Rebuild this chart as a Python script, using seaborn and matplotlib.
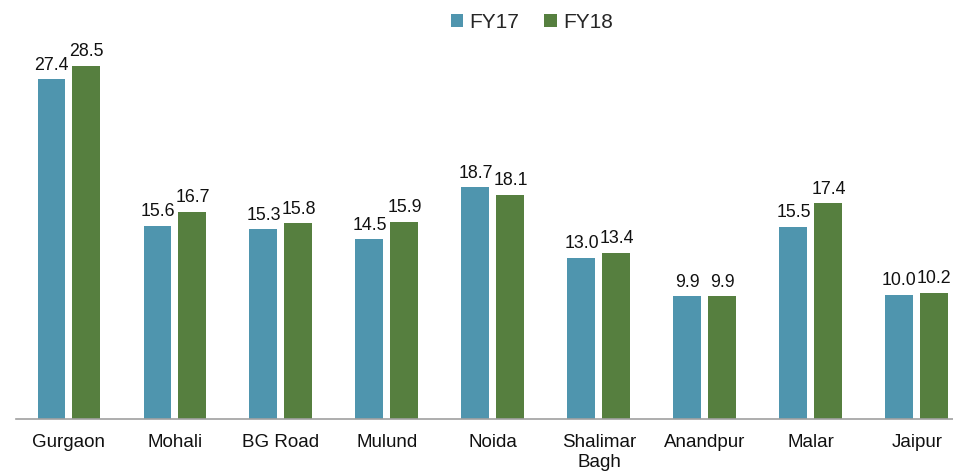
import matplotlib
matplotlib.use("Agg")
import matplotlib.pyplot as plt
import seaborn as sns
import pandas as pd

categories = ["Gurgaon", "Mohali", "BG Road", "Mulund", "Noida", "Shalimar\nBagh", "Anandpur", "Malar", "Jaipur"]
fy17 = [27.4, 15.6, 15.3, 14.5, 18.7, 13.0, 9.9, 15.5, 10.0]
fy18 = [28.5, 16.7, 15.8, 15.9, 18.1, 13.4, 9.9, 17.4, 10.2]
series = ["FY17", "FY18"]
colors = ["#4F95AE", "#567F3F"]

df = pd.DataFrame({
    "Location": categories * 2,
    "Value": fy17 + fy18,
    "Year": [series[0]] * len(categories) + [series[1]] * len(categories),
})

sns.set_style("white")
plt.rcParams["font.family"] = ["Liberation Sans", "DejaVu Sans"]

fig = plt.figure(figsize=(9.54, 4.72), dpi=100)
ax = fig.add_axes([16 / 954, 53 / 472, 938 / 954, 419 / 472])

sns.barplot(data=df, x="Location", y="Value", hue="Year", palette=colors,
            width=0.66, gap=0.2, ax=ax, saturation=1, linewidth=0)

for c in ax.containers:
    ax.bar_label(c, fmt="%.1f", padding=4, fontsize=12.8, color="#111111")

ax.set_ylim(0, 33.8)
ax.set_xlim(-0.50, 8.35)
ax.set_xlabel("")
ax.set_ylabel("")
ax.set_yticks([])
ax.tick_params(axis="x", length=0, labelsize=13.5, pad=11, colors="#111111")
for s in ["top", "right", "left"]:
    ax.spines[s].set_visible(False)
ax.spines["bottom"].set_color("#A0A0A0")
ax.spines["bottom"].set_linewidth(1.2)

ax.legend(loc="upper center", bbox_to_anchor=(0.55, 0.995),
          ncol=2, frameon=False, fontsize=15, handlelength=0.6, handleheight=0.6,
          handletextpad=0.3, columnspacing=1.2, borderaxespad=0.1)

fig.savefig("out.png", dpi=100)
